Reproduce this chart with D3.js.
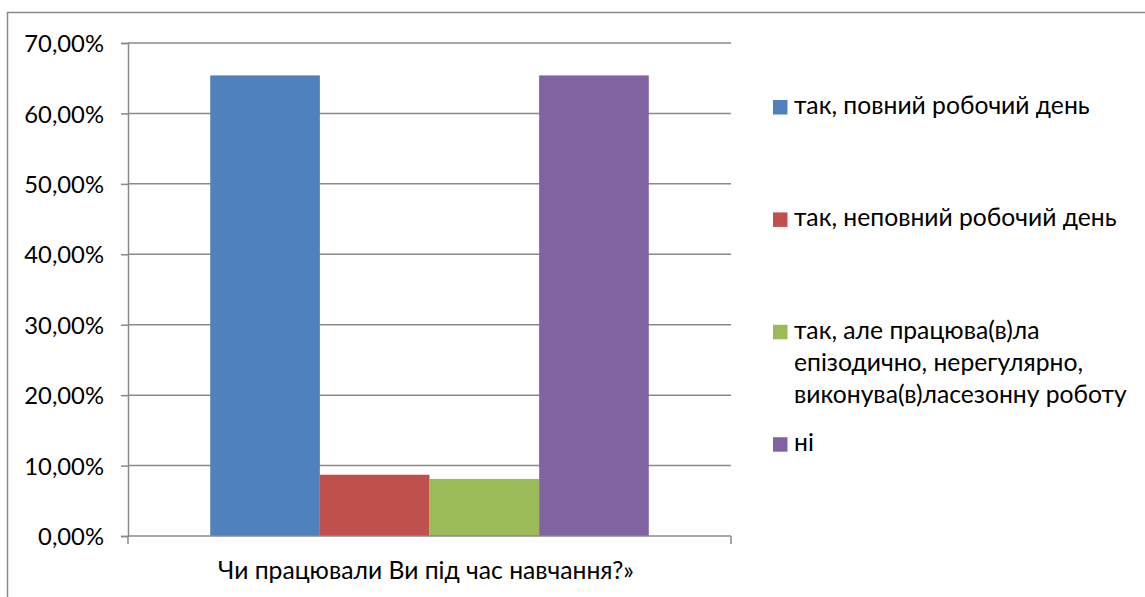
<!DOCTYPE html>
<html>
<head>
<meta charset="utf-8">
<script src="https://cdn.jsdelivr.net/npm/d3@7"></script>
<style>
  html, body { margin: 0; padding: 0; background: #fff; }
  svg { display: block; }
  text { font-family: Lato, "Open Sans", sans-serif; fill: #000; }
</style>
</head>
<body>
<svg id="chart" width="1145" height="597"></svg>
<script>
// ---- data ----
const categories = ["Чи працювали Ви під час навчання?»"];
const seriesNames = [
  "так, повний робочий день",
  "так, неповний робочий день",
  "так, але працюва(в)ла епізодично, нерегулярно, виконува(в)ласезонну роботу",
  "ні"
];
const legendLines = [
  ["так, повний робочий день"],
  ["так, неповний робочий день"],
  ["так, але працюва(в)ла", "епізодично, нерегулярно,", "виконува(в)ласезонну роботу"],
  ["ні"]
];
const seriesValues = [0.654, 0.087, 0.081, 0.654];
const seriesColors = ["#4F81BD", "#C0504D", "#9BBB59", "#8064A2"];
const yTicks = [0, 0.1, 0.2, 0.3, 0.4, 0.5, 0.6, 0.7];

// ---- layout ----
const svg = d3.select("#chart");
const plot = { left: 128, right: 731, top: 43, bottom: 536 };
const gridColor = "#8a8a8a";
const textSize = 24.7;
const tickSize = 23.8;

// outer frame
svg.append("rect")
  .attr("x", 7.5).attr("y", 12.5)
  .attr("width", 1145).attr("height", 600)
  .attr("fill", "none").attr("stroke", gridColor).attr("stroke-width", 1.5);

const y = d3.scaleLinear().domain([0, 0.7]).range([plot.bottom, plot.top]);
const x0 = d3.scaleBand().domain(categories).range([plot.left, plot.right]).padding(0);
const x1 = d3.scaleBand().domain(seriesNames).range([0, x0.bandwidth()])
  .paddingInner(0).paddingOuter(0.75);

const fmt = v => (v * 100).toFixed(2).replace(".", ",") + "%";

// gridlines
svg.append("g").selectAll("line").data(yTicks.filter(t => t > 0)).join("line")
  .attr("x1", plot.left).attr("x2", plot.right)
  .attr("y1", d => y(d)).attr("y2", d => y(d))
  .attr("stroke", gridColor).attr("stroke-width", 1.5);

// bars
const g = svg.append("g");
categories.forEach(cat => {
  g.selectAll(null).data(seriesValues).join("rect")
    .attr("x", (d, i) => x0(cat) + x1(seriesNames[i]))
    .attr("width", x1.bandwidth())
    .attr("y", d => y(d))
    .attr("height", d => y(0) - y(d))
    .attr("fill", (d, i) => seriesColors[i]);
});

// y axis
const yAxis = d3.axisLeft(y).tickValues(yTicks).tickFormat(fmt).tickSize(7).tickPadding(17);
const ya = svg.append("g").attr("transform", `translate(${plot.left},0)`).call(yAxis);
ya.select(".domain").attr("stroke", gridColor).attr("stroke-width", 1.5);
ya.selectAll(".tick line").attr("stroke", gridColor).attr("stroke-width", 1.5);
ya.selectAll(".tick text").attr("font-size", tickSize).attr("font-family", "Lato").attr("fill", "#000").attr("dy", "0.36em");

// x axis
const xAxis = d3.axisBottom(x0).tickSize(0).tickFormat(d => d);
const xa = svg.append("g").attr("transform", `translate(0,${plot.bottom})`).call(xAxis);
xa.select(".domain").remove();
xa.append("line").attr("x1", plot.left).attr("x2", plot.right).attr("y1", 0).attr("y2", 0)
  .attr("stroke", gridColor).attr("stroke-width", 1.5);
[plot.left, plot.right].forEach(xx => {
  xa.append("line").attr("x1", xx).attr("x2", xx).attr("y1", 0).attr("y2", 8)
    .attr("stroke", gridColor).attr("stroke-width", 1.5);
});
xa.selectAll(".tick text").attr("font-size", textSize).attr("font-family", "Lato")
  .attr("fill", "#000").attr("y", 43).attr("dy", 0).attr("dx", -3.5);

// legend
const legend = svg.append("g");
legendLines.forEach((lines, i) => {
  const top = 100 + i * 112.4;
  legend.append("rect").attr("x", 773).attr("y", top).attr("width", 14.5).attr("height", 14.5)
    .attr("fill", seriesColors[i]);
  const t = legend.append("text").attr("x", 794).attr("y", top + 14).attr("font-size", textSize);
  lines.forEach((ln, j) => {
    t.append("tspan").attr("x", 794).attr("y", top + 14 + j * 32).text(ln);
  });
});
</script>
</body>
</html>
